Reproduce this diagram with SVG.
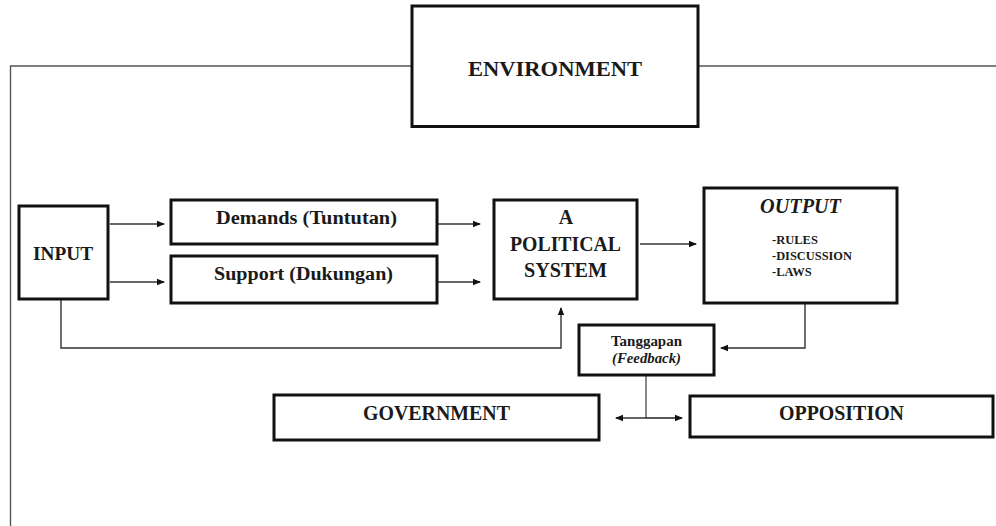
<svg xmlns="http://www.w3.org/2000/svg" width="996" height="526" viewBox="0 0 996 526">
<style>
.box{fill:#fff;stroke:#111;stroke-width:3}
.t{font-family:"Liberation Serif","Times New Roman",serif;font-weight:bold;fill:#1a1a1a}
.c{fill:none;stroke:#555;stroke-width:1.4}
.a{fill:none;stroke:#333;stroke-width:1.4;marker-end:url(#ah)}
</style>
<defs>
<marker id="ah" markerWidth="8" markerHeight="8" refX="7" refY="4" orient="auto-start-reverse" markerUnits="userSpaceOnUse">
<path d="M0,0.8 L8,4 L0,7.2 Z" fill="#111"/>
</marker>
</defs>
<rect width="996" height="526" fill="#fff"/>
<g id="connectors">
<path class="c" d="M996,66 H698 M412,66 H10.5 V526"/>
<path class="a" d="M110,224 H164"/>
<path class="a" d="M110,282 H164"/>
<path class="a" d="M438,224 H480"/>
<path class="a" d="M438,282 H480"/>
<path class="a" d="M640,244 H696"/>
<path class="a" d="M61,300 V348 H561 V308"/>
<path class="a" d="M805,304 V348 H721"/>
<path class="c" d="M646,376 V418"/>
<path class="a" d="M646,418 H616" style="stroke:#222"/>
<path class="a" d="M646,418 H682" style="stroke:#222"/>
</g>
<g id="environment">
<rect class="box" x="412" y="6" width="286" height="120.5"/>
<text class="t" x="555" y="76" font-size="22" text-anchor="middle" textLength="174" lengthAdjust="spacingAndGlyphs">ENVIRONMENT</text>
</g>
<g id="input">
<rect class="box" x="19" y="206" width="89" height="93"/>
<text class="t" x="63" y="260" font-size="19" text-anchor="middle" textLength="60" lengthAdjust="spacingAndGlyphs">INPUT</text>
</g>
<g id="demands">
<rect class="box" x="171" y="200" width="266" height="44"/>
<text class="t" x="306.5" y="224" font-size="18" text-anchor="middle" textLength="181" lengthAdjust="spacingAndGlyphs">Demands (Tuntutan)</text>
</g>
<g id="support">
<rect class="box" x="171" y="256" width="266" height="47"/>
<text class="t" x="303.5" y="280" font-size="18" text-anchor="middle" textLength="179" lengthAdjust="spacingAndGlyphs">Support (Dukungan)</text>
</g>
<g id="political-system">
<rect class="box" x="494" y="200" width="143" height="99"/>
<text class="t" x="566" y="224" font-size="20" text-anchor="middle">A</text>
<text class="t" x="565.5" y="251" font-size="20" text-anchor="middle" textLength="111" lengthAdjust="spacingAndGlyphs">POLITICAL</text>
<text class="t" x="565.5" y="277" font-size="20" text-anchor="middle" textLength="83" lengthAdjust="spacingAndGlyphs">SYSTEM</text>
</g>
<g id="output">
<rect class="box" x="704" y="188" width="193" height="115"/>
<text class="t" x="800.5" y="213" font-size="20" font-style="italic" text-anchor="middle" textLength="81" lengthAdjust="spacingAndGlyphs">OUTPUT</text>
<text class="t" x="772" y="244" font-size="12.5">-RULES</text>
<text class="t" x="772" y="260" font-size="12.5" textLength="80" lengthAdjust="spacingAndGlyphs">-DISCUSSION</text>
<text class="t" x="772" y="276" font-size="12.5">-LAWS</text>
</g>
<g id="feedback">
<rect class="box" x="579" y="325" width="135" height="50"/>
<text class="t" x="646.5" y="346" font-size="14" text-anchor="middle" textLength="71" lengthAdjust="spacingAndGlyphs">Tanggapan</text>
<text class="t" x="646.5" y="363" font-size="14" font-style="italic" text-anchor="middle" textLength="69" lengthAdjust="spacingAndGlyphs">(Feedback)</text>
</g>
<g id="government">
<rect class="box" x="274" y="395" width="325" height="45"/>
<text class="t" x="436.5" y="420" font-size="20" text-anchor="middle" textLength="147" lengthAdjust="spacingAndGlyphs">GOVERNMENT</text>
</g>
<g id="opposition">
<rect class="box" x="690" y="396" width="303" height="41"/>
<text class="t" x="841.5" y="420" font-size="20" text-anchor="middle" textLength="125" lengthAdjust="spacingAndGlyphs">OPPOSITION</text>
</g>
</svg>
